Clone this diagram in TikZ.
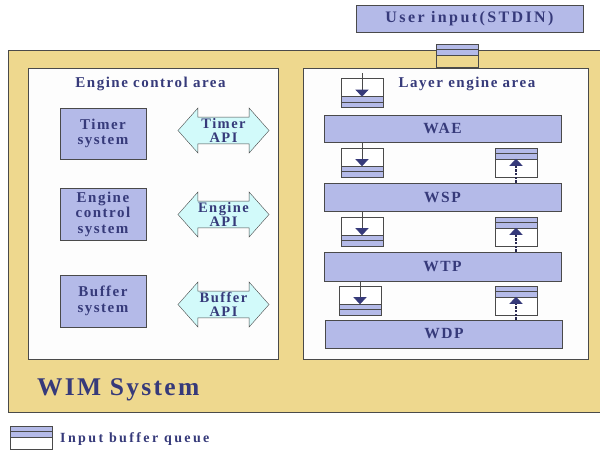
\documentclass[tikz,border=0pt]{standalone}
\usepackage{fontspec}
\setmainfont{Liberation Serif}[LetterSpace=10]
\usetikzlibrary{shapes.arrows,calc,arrows.meta}
\definecolor{lav}{HTML}{B4BAE8}
\definecolor{yel}{HTML}{EED88E}
\definecolor{cyanf}{HTML}{D2FAFA}
\definecolor{navy}{HTML}{363A7A}
\definecolor{bord}{HTML}{4A4A4A}
\definecolor{dotc}{HTML}{2A2A50}
\definecolor{panelw}{HTML}{FDFDFD}
\newcommand\fsz[2]{\bfseries\fontsize{#1}{#2}\selectfont}
\tikzset{
  sysbox/.style={draw=bord, fill=lav, text=navy, minimum width=86pt, minimum height=52pt, align=center, inner sep=0pt, font=\fsz{15}{15.5}},
  apiarrow/.style={double arrow, draw=bord, fill=cyanf, text=navy, minimum height=91pt, minimum width=45pt,
    double arrow head extend=8.5pt, double arrow tip angle=97, inner sep=0pt, align=center, font=\fsz{14.5}{14.5}},
  layerbox/.style={draw=bord, fill=lav, text=navy, minimum width=237pt, minimum height=28pt, inner sep=0pt, font=\fsz{15.5}{16}},
  panel/.style={draw=bord, fill=panelw, inner sep=0pt, anchor=north west},
  title/.style={text=navy, inner sep=0pt, font=\fsz{15}{16}},
  qbox/.style={draw=bord, minimum width=42pt, minimum height=29pt, inner sep=0pt},
  dnarrow/.style={draw=bord, line width=0.6pt, -{Triangle[width=13pt,length=7pt,color=navy]}},
  uparrow/.style={draw=dotc, line width=2pt, dash pattern=on 2.5pt off 1.2pt, -{Triangle[width=13pt,length=7pt,color=navy]}},
}
% queue with stripes at the bottom (white top)
\newcommand\qdown[3]{%
  \node[qbox, fill=white] (#1) at (#2,#3) {};
  \fill[lav] ($(#1.south west)+(0,-11)$) rectangle (#1.south east);
  \draw[bord, line width=0.5pt] ($(#1.south west)+(0,-11)$) -- ($(#1.south east)+(0,-11)$);
  \draw[bord, line width=0.8pt] ($(#1.south west)+(0,-5.5)$) -- ($(#1.south east)+(0,-5.5)$);
  \draw[bord, line width=0.6pt] (#1.north west) rectangle (#1.south east);
}
% queue with stripes at the top: name, x, y, height, lower fill
\newcommand\qtop[5]{%
  \node[qbox, minimum height=#4pt, fill=#5] (#1) at (#2,#3) {};
  \fill[lav] (#1.north west) rectangle ($(#1.north east)+(0,11)$);
  \draw[bord, line width=0.5pt] ($(#1.north west)+(0,11)$) -- ($(#1.north east)+(0,11)$);
  \draw[bord, line width=0.9pt] ($(#1.north west)+(0,5.5)$) -- ($(#1.north east)+(0,5.5)$);
  \draw[bord, line width=0.6pt] (#1.north west) rectangle (#1.south east);
}
\begin{document}
\begin{tikzpicture}[x=1pt,y=-1pt]
\clip (0,0) rectangle (600,451);
\fill[white] (0,0) rectangle (600,451);

% user input
\node[draw=bord, fill=lav, text=navy, minimum width=227pt, minimum height=27pt, inner sep=0pt, font=\fsz{16}{17}\addfontfeature{LetterSpace=15}] (stdin) at (469.5,18.5) {User input(STDIN)};

% WIM frame
\node[draw=bord, fill=yel, minimum width=595pt, minimum height=362pt, inner sep=0pt, anchor=north west] (frame) at (8,50) {};
\qtop{qin}{457.5}{55.5}{23}{none}

% panels
\node[panel, minimum width=250pt, minimum height=291pt] (lpanel) at (28,68) {};
\node[panel, minimum width=285pt, minimum height=291pt] (rpanel) at (303,68) {};

\node[title] (ltitle) at (150.5,84) {Engine control area};
\node[title] (rtitle) at (467,84) {Layer engine area};

% left panel
\node[sysbox, minimum height=51pt] (timer) at (103,133.5) {Timer\\system};
\node[sysbox] (engine) at (103,214) {Engine\\control\\system};
\node[sysbox] (buffer) at (103,301) {Buffer\\system};
\node[apiarrow] (tapi) at (223.5,130.5) {Timer\\API};
\node[apiarrow] (eapi) at (223.5,214.5) {Engine\\API};
\node[apiarrow] (bapi) at (223.5,304.5) {Buffer\\API};

% right panel
\node[layerbox, minimum height=27pt] (wae) at (442.5,128.5) {WAE};
\node[layerbox] (wsp) at (442.5,197) {WSP};
\node[layerbox, minimum height=29pt] (wtp) at (442.5,266.5) {WTP};
\node[layerbox] (wdp) at (444,334) {WDP};

\qdown{d0}{362}{93}
\qdown{d1}{362}{162.5}
\qdown{d2}{362}{231.5}
\qdown{d3}{360}{300.5}
\qtop{u1}{516}{162.5}{29}{white}
\qtop{u2}{516}{231.5}{29}{white}
\qtop{u3}{516}{300.5}{29}{white}

\coordinate (inlet) at (362,73);
\draw[dnarrow] (inlet) -- ($(d0.south)+(0,-11)$);
\draw[dnarrow] (wae.south -| d1.center) -- ($(d1.south)+(0,-11)$);
\draw[dnarrow] (wsp.south -| d2.center) -- ($(d2.south)+(0,-11)$);
\draw[dnarrow] (wtp.south -| d3.center) -- ($(d3.south)+(0,-11)$);
\draw[uparrow] (wsp.north -| u1.center) -- ($(u1.north)+(0,11)$);
\draw[uparrow] (wtp.north -| u2.center) -- ($(u2.north)+(0,11)$);
\draw[uparrow] (wdp.north -| u3.center) -- ($(u3.north)+(0,11)$);

% labels
\node[text=navy, inner sep=0pt, anchor=west, font=\fsz{25.5}{28}\addfontfeature{LetterSpace=9}] (wim) at (37,390) {WIM System};
\qtop{legq}{31.5}{437.5}{23}{white}
\node[text=navy, inner sep=0pt, anchor=west, font=\fsz{14}{15}\addfontfeature{LetterSpace=17}] (legend) at (60,439) {Input buffer queue};
\end{tikzpicture}
\end{document}
